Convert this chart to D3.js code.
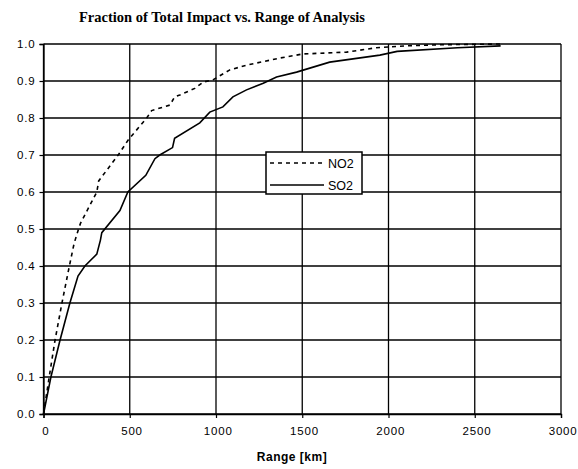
<!DOCTYPE html>
<html><head><meta charset="utf-8">
<script src="https://cdn.jsdelivr.net/npm/d3@7"></script>
<style>
body{margin:0;background:#fff;}
svg{display:block;}
.tick text{font-family:"Liberation Sans",Arial,sans-serif;font-size:11.5px;letter-spacing:0.8px;fill:#000;}
</style></head>
<body>
<script>
const title = "Fraction of Total Impact vs. Range of Analysis";
const xLabel = "Range [km]";
const seriesNames = ["NO2", "SO2"];
const no2Range = [0, 33, 67, 107, 150, 177, 203, 215, 309, 320, 433, 490, 598, 627, 733, 760, 790, 877, 925, 982, 1080, 1178, 1370, 1503, 1757, 1930, 2100, 2300, 2650];
const no2Frac  = [0, 0.1, 0.2, 0.3, 0.4, 0.46, 0.5, 0.516, 0.6, 0.63, 0.7, 0.74, 0.8, 0.82, 0.835, 0.857, 0.862, 0.88, 0.897, 0.903, 0.93, 0.943, 0.962, 0.973, 0.978, 0.99, 0.995, 0.998, 1.0];
const so2Range = [0, 43, 96, 153, 200, 240, 309, 330, 338, 443, 489, 593, 646, 674, 748, 760, 906, 964, 1040, 1098, 1177, 1274, 1351, 1467, 1659, 1950, 2050, 2400, 2650];
const so2Frac  = [0, 0.1, 0.2, 0.3, 0.373, 0.4, 0.432, 0.47, 0.49, 0.55, 0.6, 0.645, 0.69, 0.7, 0.72, 0.745, 0.787, 0.816, 0.83, 0.857, 0.876, 0.894, 0.911, 0.924, 0.951, 0.97, 0.98, 0.99, 0.995];
const xTicks = [0, 500, 1000, 1500, 2000, 2500, 3000];
const yTicks = [0, 0.1, 0.2, 0.3, 0.4, 0.5, 0.6, 0.7, 0.8, 0.9, 1.0];

const W = 578, H = 469;
const m = {left: 43.5, right: 17, top: 44, bottom: 55};
const svg = d3.select("body").append("svg").attr("width", W).attr("height", H);
const x = d3.scaleLinear().domain([0, 3000]).range([m.left, W - m.right]);
const y = d3.scaleLinear().domain([0, 1]).range([H - m.bottom, m.top]);

// gridlines
svg.append("g").selectAll("line").data(yTicks).join("line")
  .attr("x1", x(0)).attr("x2", x(3000)).attr("y1", d => y(d)).attr("y2", d => y(d))
  .attr("stroke", "#000").attr("stroke-width", 1.3);
svg.append("g").selectAll("line").data(xTicks).join("line")
  .attr("x1", d => x(d)).attr("x2", d => x(d)).attr("y1", y(0)).attr("y2", y(1))
  .attr("stroke", "#000").attr("stroke-width", 1.3);

// axes
const xAxis = svg.append("g").attr("transform", `translate(0,${y(0)})`)
  .call(d3.axisBottom(x).tickValues(xTicks).tickFormat(d3.format("d")).tickSize(4).tickPadding(9));
const yAxis = svg.append("g").attr("transform", `translate(${x(0)},0)`)
  .call(d3.axisLeft(y).tickValues(yTicks).tickFormat(d3.format(".1f")).tickSize(4).tickPadding(4));
[xAxis, yAxis].forEach(a => {
  a.select(".domain").attr("stroke", "#000").attr("stroke-width", 1.3);
  a.selectAll(".tick line").attr("stroke", "#000").attr("stroke-width", 1.2);
});
xAxis.selectAll(".tick text").attr("dx", "0.15em");
xAxis.selectAll(".tick").filter(d => d === 3000).select("text")
  .attr("text-anchor", "end").attr("x", W - 1 - x(3000)).attr("dx", null);

// lines
const line = d3.line().x(d => x(d[0])).y(d => y(d[1]));
const no2 = no2Range.map((r, i) => [r, no2Frac[i]]);
const so2 = so2Range.map((r, i) => [r, so2Frac[i]]);
svg.append("path").datum(no2).attr("d", line).attr("fill", "none")
  .attr("stroke", "#000").attr("stroke-width", 1.6).attr("stroke-dasharray", "4,4");
svg.append("path").datum(so2).attr("d", line).attr("fill", "none")
  .attr("stroke", "#000").attr("stroke-width", 1.6);

// title
svg.append("text").attr("x", 222).attr("y", 22).attr("text-anchor", "middle")
  .attr("font-family", "'Liberation Serif','Times New Roman',serif").attr("font-weight", "bold")
  .attr("font-size", 14.5).text(title);
// x label
svg.append("text").attr("x", 292).attr("y", 461).attr("text-anchor", "middle")
  .attr("font-family", "'Liberation Sans',Arial,sans-serif").attr("font-weight", "bold")
  .attr("font-size", 12).attr("letter-spacing", 0.5).text(xLabel);

// legend
const lg = svg.append("g").attr("transform", "translate(266,152)");
lg.append("rect").attr("width", 96).attr("height", 42).attr("fill", "#fff")
  .attr("stroke", "#000").attr("stroke-width", 1.5);
const dashes = ["4,4", null];
seriesNames.forEach((n, i) => {
  const yy = 11 + i * 22;
  lg.append("line").attr("x1", 4).attr("x2", 58).attr("y1", yy).attr("y2", yy)
    .attr("stroke", "#000").attr("stroke-width", 1.5).attr("stroke-dasharray", dashes[i]);
  lg.append("text").attr("x", 62).attr("y", yy + 4.5)
    .attr("font-family", "'Liberation Sans',Arial,sans-serif").attr("font-size", 12.5)
    .text(n);
});
</script>
</body></html>
